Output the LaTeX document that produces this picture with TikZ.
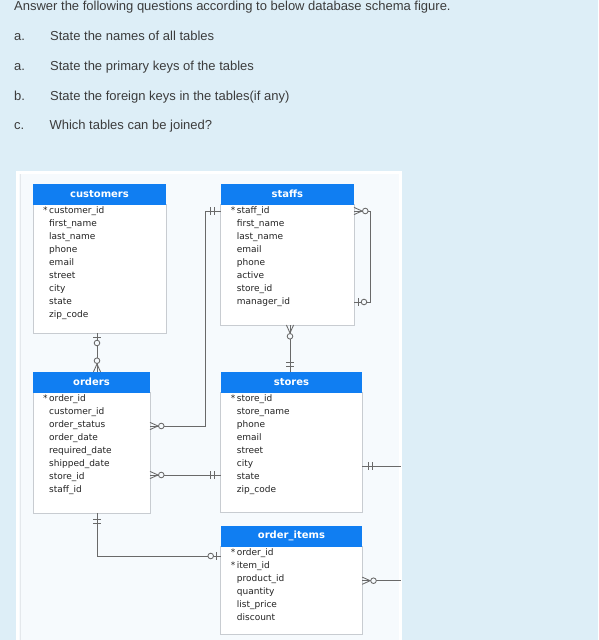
\documentclass[tikz,border=0pt]{standalone}
\usepackage{fontspec}
\setmainfont{Liberation Sans}
\newfontfamily\dbfont{DejaVu Sans}
\usetikzlibrary{calc}
\definecolor{bgblue}{RGB}{221,238,247}
\definecolor{panelc}{RGB}{246,250,253}
\definecolor{panelline}{RGB}{228,232,236}
\definecolor{hdrblue}{RGB}{16,126,242}
\definecolor{boxline}{RGB}{200,204,209}
\definecolor{rowtxt}{RGB}{35,35,35}
\definecolor{qtxt}{RGB}{60,60,60}
\definecolor{conncol}{RGB}{105,105,105}
\tikzset{
  qtext/.style={font=\fontsize{13}{15}\selectfont, text=qtxt, inner sep=0pt, anchor=base west},
  hdr/.style={rectangle, fill=hdrblue, text=white, font=\dbfont\bfseries\fontsize{10}{12}\selectfont, minimum height=20.5pt, inner sep=0pt, outer sep=0pt},
  bodybox/.style={rectangle, draw=boxline, line width=0.8pt, fill=white, inner sep=0pt, outer sep=0pt},
  row/.style={font=\dbfont\fontsize{9}{10}\selectfont, text=rowtxt, inner sep=0pt, anchor=base west},
  conn/.style={draw=conncol, line width=0.85pt},
  mk/.style={draw=conncol, line width=0.85pt},
  zmany/.pic={\draw[mk] (0,-3.6) -- (8,0) -- (0,3.6); \draw[mk, fill=panelc] (11.3,0) circle (2.8pt);},
  zone/.pic={\draw[mk] (4,-3.6) -- (4,3.6); \draw[mk, fill=panelc] (10,0) circle (2.8pt);},
  oone/.pic={\draw[mk] (6,-3.6) -- (6,3.6); \draw[mk] (10,-3.6) -- (10,3.6);},
}
\newcommand\erdtable[7]{%
  \pgfmathsetmacro\erdh{#5-#3-20}%
  \node[bodybox, minimum width=#4pt, minimum height=\erdh pt, anchor=north west] (#1-b) at (#2,#3+20) {};
  \node[hdr, minimum width=#4pt, anchor=north west] (#1) at (#2,#3) {#6};
  \foreach \r [count=\i] in {#7} {\node[row] (#1-\i) at (#2+16,#3+29.5+13*\i-13) {\r};}
}
\begin{document}
\begin{tikzpicture}[x=1pt,y=-1pt]
\useasboundingbox (0,0) rectangle (598,640);
\clip (0,0) rectangle (598,640);
\fill[bgblue] (0,0) rectangle (598,640);

% questions
\node[qtext] (title) at (14,10.5) {Answer the following questions according to below database schema figure.};
\node[qtext] (la) at (14,40.5) {a.};
\node[qtext] (qa) at (50,40.5) {State the names of all tables};
\node[qtext] (lb) at (14,70) {a.};
\node[qtext] (qb) at (50,70) {State the primary keys of the tables};
\node[qtext] (lc) at (14,100) {b.};
\node[qtext] (qc) at (50,100) {State the foreign keys in the tables(if any)};
\node[qtext] (ld) at (14,129.5) {c.};
\node[qtext] (qd) at (49.3,129.5) {Which tables can be joined?};

% panel
\draw[white, line width=3pt, fill=panelc] (17.5,172.5) rectangle (400,660);
\draw[panelline, line width=1.3pt] (20.3,174) -- (20.3,640);

% tables
\erdtable{customers}{33}{184}{133}{333}{customers}{\llap{*\,}customer\_id,first\_name,last\_name,phone,email,street,city,state,zip\_code}
\erdtable{staffs}{220.7}{184}{133.3}{325}{staffs}{\llap{*\,}staff\_id,first\_name,last\_name,email,phone,active,store\_id,manager\_id}
\erdtable{orders}{33}{372}{117}{513}{orders}{\llap{*\,}order\_id,customer\_id,order\_status,order\_date,required\_date,shipped\_date,store\_id,staff\_id}
\erdtable{stores}{220.7}{372}{141.5}{512}{stores}{\llap{*\,}store\_id,store\_name,phone,email,street,city,state,zip\_code}
\erdtable{order_items}{220.7}{526}{141.5}{634}{order\_items}{\llap{*\,}order\_id,\llap{*\,}item\_id,product\_id,quantity,list\_price,discount}

% connection points
\coordinate (cu-s) at ($(customers-b.south west)+(64,0)$);
\coordinate (or-n) at ($(orders.north west)+(64,0)$);
\coordinate (st-w) at ($(staffs-b.north west)+(0,7)$);
\coordinate (or-e1) at ($(orders-b.north east)+(0,34)$);
\coordinate (or-e2) at ($(orders-b.north east)+(0,83)$);
\coordinate (so-w) at (stores-b.west |- or-e2);
\coordinate (st-s) at ($(staffs-b.south west)+(69.3,0)$);
\coordinate (so-n) at ($(stores.north west)+(69.3,0)$);
\coordinate (st-e1) at ($(staffs-b.north east)+(0,7)$);
\coordinate (st-e2) at ($(staffs-b.north east)+(0,98)$);
\coordinate (or-s) at ($(orders-b.south west)+(64,0)$);
\coordinate (oi-w) at ($(order_items-b.north west)+(0,10)$);
\coordinate (oi-e) at ($(order_items-b.north east)+(0,34.7)$);
\coordinate (oi-end) at (401,580.7);
\coordinate (so-e) at ($(stores-b.north east)+(0,74)$);
\coordinate (so-end) at (401,466);

% connectors
\draw[conn] (cu-s) -- (or-n);
\draw[conn] (st-w) -- ++(-15.7,0) |- (or-e1);
\draw[conn] (or-e2) -- (so-w);
\draw[conn] (st-s) -- (so-n);
\draw[conn] (st-e1) -- ++(16,0) |- (st-e2);
\draw[conn] (or-s) |- (oi-w);
\draw[conn] (oi-e) -- (oi-end);
\draw[conn] (so-e) -- (so-end);

% end markers
\pic[rotate=-90] at (cu-s) {zone};
\pic[rotate=90] at (or-n) {zmany};
\pic[rotate=180] at (st-w) {oone};
\pic at (or-e1) {zmany};
\pic at (or-e2) {zmany};
\pic[rotate=180] at (so-w) {oone};
\pic[rotate=-90] at (st-s) {zmany};
\pic[rotate=90] at (so-n) {oone};
\pic at (st-e1) {zmany};
\pic at (st-e2) {zone};
\pic[rotate=-90] at (or-s) {oone};
\pic[rotate=180] at (oi-w) {zone};
\pic at (oi-e) {zmany};
\pic at (so-e) {oone};
\end{tikzpicture}
\end{document}
